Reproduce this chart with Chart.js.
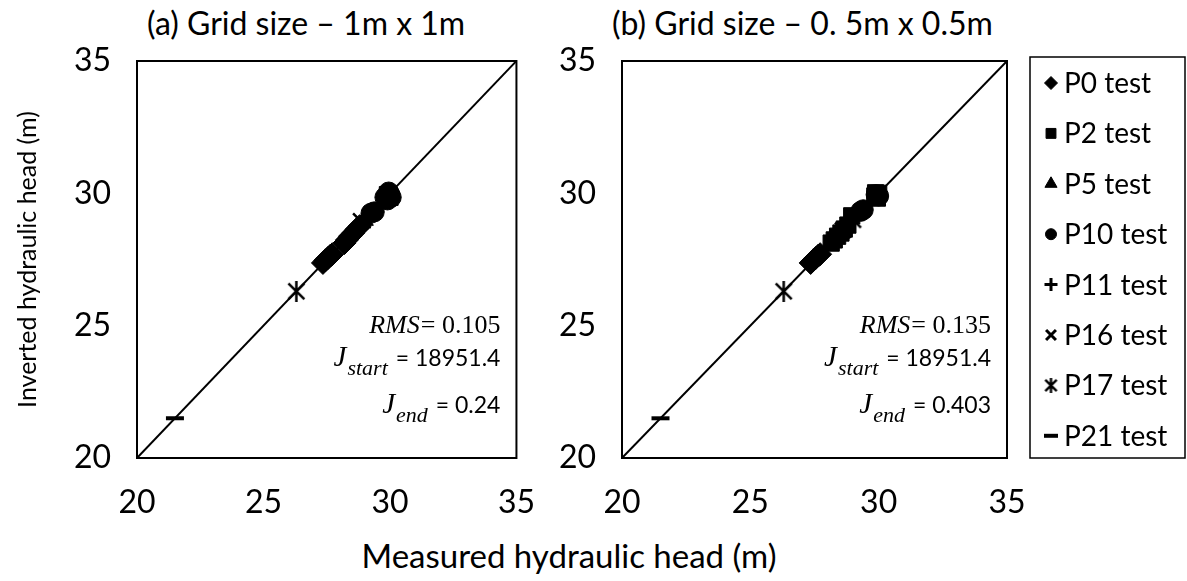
<!DOCTYPE html>
<html>
<head>
<meta charset="utf-8">
<title>Measured vs inverted hydraulic head</title>
<script src="https://cdn.jsdelivr.net/npm/chart.js@4.4.0/dist/chart.umd.min.js"></script>
<style>
  body { margin: 0; background: #fff; width: 1187px; height: 581px; position: relative; overflow: hidden; font-family: Lato, "Open Sans", sans-serif; }
  canvas { position: absolute; top: 0; }
  .lbl { position: absolute; white-space: nowrap; color: #000; line-height: 1; }
</style>
</head>
<body>
<div class="lbl" id="titleA" style="left:147px; top:7px; font-size:32px;"></div>
<div class="lbl" id="titleB" style="left:612px; top:7px; font-size:32px;"></div>
<div class="lbl" id="xTitle" style="left:569px; top:539px; font-size:33px; transform:translateX(-50%);"></div>
<canvas id="chartA" width="560" height="581" style="left:0"></canvas>
<canvas id="chartB" width="627" height="581" style="left:560px"></canvas>
<script>
// axis range and ticks (both axes, both panels)
const axisTicks = [20, 25, 30, 35];
const oneToOne = [20, 35];

const panelTitles = ["(a) Grid size – 1m x 1m", "(b) Grid size – 0. 5m x 0.5m"];
const xAxisTitle = "Measured hydraulic head (m)";
const yAxisTitle = "Inverted hydraulic head (m)";
const seriesNames = ["P0 test", "P2 test", "P5 test", "P10 test", "P11 test", "P16 test", "P17 test", "P21 test"];

// fit statistics per panel
const rmsValues = ["0.105", "0.135"];
const jStartValues = ["18951.4", "18951.4"];
const jEndValues = ["0.24", "0.403"];

// panel (a), 1m x 1m grid: [measured, inverted]
const gridA_P0 = [[27.35, 27.37], [27.45, 27.47], [27.55, 27.56], [27.65, 27.65], [27.72, 27.7],
                  [28.2, 28.12], [28.3, 28.24], [28.42, 28.38], [28.55, 28.5], [28.68, 28.64], [28.8, 28.76]];
const gridA_P2 = [[29.9, 29.95], [30.0, 29.85]];
const gridA_P5 = [[28.9, 28.88], [29.0, 28.98]];
const gridA_P10 = [[29.25, 29.25], [29.38, 29.3], [29.8, 29.85], [29.95, 30.05], [30.05, 29.85], [29.9, 29.75], [30.0, 29.95]];
const gridA_P11 = [[29.9, 29.85]];
const gridA_P16 = [[28.85, 28.95]];
const gridA_P17 = [[26.3, 26.3]];
const gridA_P21 = [[21.5, 21.5]];

// panel (b), 0.5m x 0.5m grid: [measured, inverted]
const gridB_P0 = [[27.35, 27.37], [27.45, 27.47], [27.55, 27.56], [27.65, 27.65], [27.72, 27.7]];
const gridB_P2 = [[28.15, 28.12], [28.27, 28.24], [28.4, 28.38], [28.53, 28.5], [28.66, 28.65], [28.8, 28.8], [28.95, 29.15],
                  [29.85, 29.9], [30.0, 30.0], [29.95, 29.82], [29.88, 30.02]];
const gridB_P5 = [[29.1, 29.2], [29.2, 29.3]];
const gridB_P10 = [[29.3, 29.32], [29.4, 29.38], [29.9, 29.95], [30.0, 29.9]];
const gridB_P11 = [[29.95, 29.9]];
const gridB_P16 = [[28.6, 28.6]];
const gridB_P17 = [[26.3, 26.3], [29.0, 29.0]];
const gridB_P21 = [[21.5, 21.5]];

const panelData = [
  [gridA_P0, gridA_P2, gridA_P5, gridA_P10, gridA_P11, gridA_P16, gridA_P17, gridA_P21],
  [gridB_P0, gridB_P2, gridB_P5, gridB_P10, gridB_P11, gridB_P16, gridB_P17, gridB_P21],
];

document.getElementById("titleA").textContent = panelTitles[0];
document.getElementById("titleB").textContent = panelTitles[1];
document.getElementById("xTitle").textContent = xAxisTitle;

// Excel-style star: an x with a vertical bar
function makeAsterisk(size, lw) {
  const c = document.createElement("canvas");
  c.width = size; c.height = size;
  const g = c.getContext("2d");
  g.strokeStyle = "#000";
  g.lineWidth = lw;
  const m = size * 0.12;
  g.beginPath();
  g.moveTo(m, m); g.lineTo(size - m, size - m);
  g.moveTo(size - m, m); g.lineTo(m, size - m);
  g.moveTo(size / 2, 0); g.lineTo(size / 2, size);
  g.stroke();
  return c;
}

const markerStyles = [
  { pointStyle: "rectRot", radius: 11.5, borderWidth: 1 },
  { pointStyle: "rect", radius: 11.5, borderWidth: 1 },
  { pointStyle: "triangle", radius: 10, borderWidth: 1 },
  { pointStyle: "circle", radius: 10, borderWidth: 1 },
  { pointStyle: "cross", radius: 10, borderWidth: 2.5 },
  { pointStyle: "crossRot", radius: 11, borderWidth: 2.5 },
  { pointStyle: makeAsterisk(21, 2.5), radius: 10, borderWidth: 0 },
  { pointStyle: "line", radius: 9, borderWidth: 4 },
];
const legendMarkers = [
  { pointStyle: "rectRot", radius: 6.5, borderWidth: 1 },
  { pointStyle: "rect", radius: 7, borderWidth: 1 },
  { pointStyle: "triangle", radius: 7, borderWidth: 1 },
  { pointStyle: "circle", radius: 5.5, borderWidth: 1 },
  { pointStyle: "cross", radius: 6.5, borderWidth: 3 },
  { pointStyle: "crossRot", radius: 7, borderWidth: 3 },
  { pointStyle: makeAsterisk(15, 2.4), radius: 7, borderWidth: 0 },
  { pointStyle: "line", radius: 7, borderWidth: 4 },
];

function buildDatasets(series) {
  const sets = series.map((pts, i) => ({
    label: seriesNames[i],
    type: "scatter",
    data: pts.map((p) => ({ x: p[0], y: p[1] })),
    pointStyle: markerStyles[i].pointStyle,
    pointRadius: markerStyles[i].radius,
    pointBorderWidth: markerStyles[i].borderWidth,
    pointBackgroundColor: "#000",
    pointBorderColor: "#000",
  }));
  // 1:1 line
  sets.push({
    label: "1:1",
    type: "line",
    data: oneToOne.map((v) => ({ x: v, y: v })),
    borderColor: "#000",
    borderWidth: 2,
    pointRadius: 0,
  });
  return sets;
}

// frame round the plot area
const frame = {
  id: "frame",
  afterDraw(chart) {
    const { ctx, chartArea: a } = chart;
    ctx.save();
    ctx.strokeStyle = "#000";
    ctx.lineWidth = 2;
    ctx.strokeRect(a.left, a.top, a.right - a.left, a.bottom - a.top);
    ctx.restore();
  },
};

// RMS / J text block in the lower right corner
const stats = {
  id: "stats",
  afterDraw(chart, args, opts) {
    const { ctx, chartArea: a } = chart;
    const k = opts.panel;
    const right = a.right - 16;
    const serifI = "italic 26px 'Liberation Serif', 'DejaVu Serif', serif";
    const serif = "26px 'Liberation Serif', 'DejaVu Serif', serif";
    const bigJ = "italic 29px 'Liberation Serif', 'DejaVu Serif', serif";
    const sans = "23px Lato, sans-serif";
    const subI = "italic 22px 'Liberation Serif', 'DejaVu Serif', serif";
    ctx.save();
    ctx.fillStyle = "#000";
    ctx.textBaseline = "alphabetic";
    ctx.textAlign = "left";

    function line(parts, baseline) {
      let w = 0;
      parts.forEach((p) => { ctx.font = p.font; w += ctx.measureText(p.text).width + (p.gap || 0); });
      let x = right - w;
      parts.forEach((p) => {
        ctx.font = p.font;
        ctx.fillText(p.text, x, baseline + (p.dy || 0));
        x += ctx.measureText(p.text).width + (p.gap || 0);
      });
    }
    line([{ text: "RMS", font: serifI, gap: 1 }, { text: "= " + rmsValues[k], font: serif }], 333);
    line([{ text: "J", font: bigJ, gap: 1 }, { text: "start", font: subI, dy: 9, gap: 8 }, { text: "= " + jStartValues[k], font: sans }], 366);
    line([{ text: "J", font: bigJ, gap: 1 }, { text: "end", font: subI, dy: 9, gap: 8 }, { text: "= " + jEndValues[k], font: sans }], 413);
    ctx.restore();
  },
};

// boxed legend to the right of panel (b)
const boxLegend = {
  id: "boxLegend",
  afterDraw(chart, args, opts) {
    if (!opts.show) return;
    const { ctx, chartArea: a } = chart;
    const left = a.right + 23;
    const top = a.top - 4;
    ctx.save();
    ctx.strokeStyle = "#000";
    ctx.lineWidth = 1.5;
    ctx.strokeRect(left, top, 155, a.bottom - top);
    ctx.font = "28px Lato, sans-serif";
    ctx.textBaseline = "middle";
    seriesNames.forEach((name, i) => {
      const y = a.top + 22 + i * 50.4;
      ctx.fillStyle = "#000";
      ctx.strokeStyle = "#000";
      ctx.lineWidth = legendMarkers[i].borderWidth;
      Chart.helpers.drawPoint(ctx, { ...legendMarkers[i], rotation: 0 }, left + 21, y);
      ctx.fillStyle = "#000";
      ctx.fillText(name, left + 34, y + 1);
    });
    ctx.restore();
  },
};

function makePanel(canvasId, k, yWidth, padRight) {
  const tickFont = { family: "Lato", size: 32 };
  return new Chart(document.getElementById(canvasId), {
    data: { datasets: buildDatasets(panelData[k]) },
    plugins: [frame, stats, boxLegend],
    options: {
      responsive: false,
      animation: false,
      layout: { padding: { left: 0, right: padRight, top: 61, bottom: 0 } },
      plugins: {
        legend: { display: false },
        tooltip: { enabled: false },
        stats: { panel: k },
        boxLegend: { show: k === 1 },
      },
      scales: {
        x: {
          type: "linear",
          min: axisTicks[0],
          max: axisTicks[axisTicks.length - 1],
          afterBuildTicks: (s) => { s.ticks = axisTicks.map((v) => ({ value: v })); },
          afterFit: (s) => { s.height = 123; },
          grid: { display: false, drawTicks: false },
          border: { display: false },
          ticks: { color: "#000", font: tickFont, padding: 25 },
        },
        y: {
          type: "linear",
          min: axisTicks[0],
          max: axisTicks[axisTicks.length - 1],
          afterBuildTicks: (s) => { s.ticks = axisTicks.map((v) => ({ value: v })); },
          afterFit: (s) => { s.width = yWidth; },
          grid: { display: false, drawTicks: false },
          border: { display: false },
          ticks: { color: "#000", font: tickFont, padding: 26 },
          title: {
            display: k === 0,
            text: yAxisTitle,
            color: "#000",
            font: { family: "Lato", size: 25 },
            padding: { top: 13, bottom: 0 },
          },
        },
      },
    },
  });
}

makePanel("chartA", 0, 137, 38);
makePanel("chartB", 1, 62, 180);
</script>
</body>
</html>
